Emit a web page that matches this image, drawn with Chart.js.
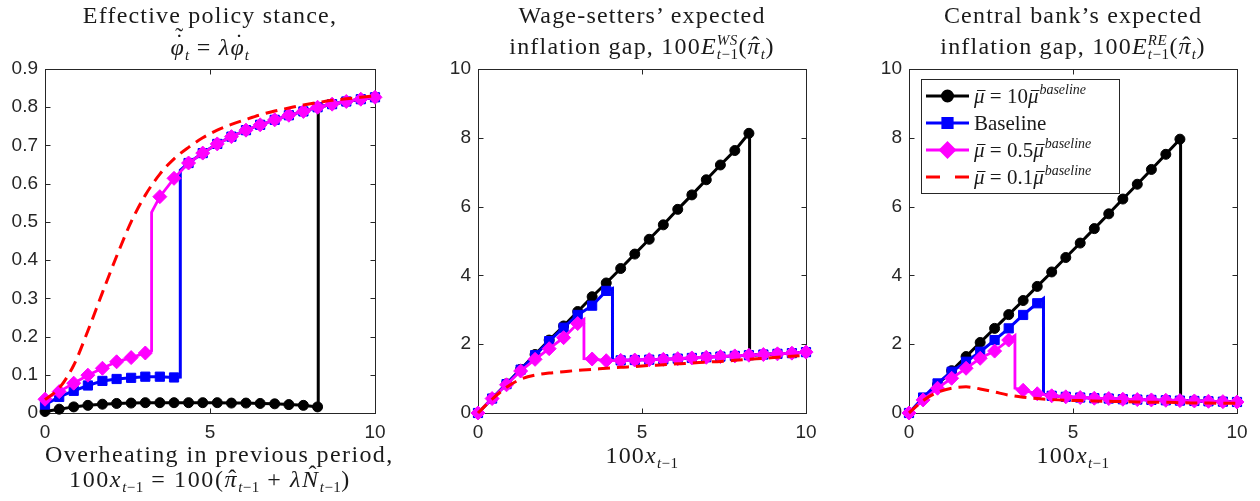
<!DOCTYPE html>
<html>
<head>
<meta charset="utf-8">
<script src="https://cdn.jsdelivr.net/npm/chart.js@4.4.1/dist/chart.umd.min.js"></script>
<style>
  html, body { margin: 0; padding: 0; background: #fff; }
  #wrap { position: relative; width: 1260px; height: 501px; overflow: hidden; }
  canvas { position: absolute; top: 0; }
  .lbl {
    position: absolute; text-align: center; white-space: nowrap;
    font-family: "Liberation Serif", "DejaVu Serif", serif;
    font-size: 24px; line-height: 32px; letter-spacing: 1.2px; color: #1a1a1a;
  }
  .lbl sub { font-size: 15px; line-height: 0; vertical-align: -5px; letter-spacing: 0.5px; }
  .ss { display: inline-block; font-size: 15px; line-height: 14px; vertical-align: -5px;
        text-align: left; font-style: italic; letter-spacing: 0.5px; }
  /* accents stacked over a single letter */
  .acc { position: relative; display: inline-block; }
  .acc > b { position: absolute; left: 0; right: 0; text-align: center; font-weight: normal;
             font-style: normal; line-height: 1em; letter-spacing: 0; }
</style>
</head>
<body>
<div id="wrap">
  <canvas id="stance" width="420" height="501" style="left:0px"></canvas>
  <canvas id="wage" width="420" height="501" style="left:420px"></canvas>
  <canvas id="bank" width="420" height="501" style="left:840px"></canvas>

  <!-- titles -->
  <div class="lbl" style="left:45px;width:330px;top:-1px">Effective policy stance,</div>
  <div class="lbl" style="left:45px;width:330px;top:31px"><span class="acc"><i>φ</i><b style="top:-7px;left:3px">˜</b><b style="top:-1px;left:3px">˙</b></span><sub><i>t</i></sub> = <i>λ</i><span class="acc"><i>φ</i><b style="top:-1px;left:3px">˙</b></span><sub><i>t</i></sub></div>
  <div class="lbl" style="left:478px;width:328px;top:-1px">Wage-setters’ expected</div>
  <div class="lbl" style="left:478px;width:328px;top:30px">inflation gap, 100<i>E</i><span class="ss">WS<br>t<span style="font-style:normal">−1</span></span>(<span class="acc"><i>π</i><b style="top:3px;left:2px">ˆ</b></span><sub><i>t</i></sub>)</div>
  <div class="lbl" style="left:909px;width:328px;top:-1px">Central bank’s expected</div>
  <div class="lbl" style="left:909px;width:328px;top:30px">inflation gap, 100<i>E</i><span class="ss">RE<br>t<span style="font-style:normal">−1</span></span>(<span class="acc"><i>π</i><b style="top:3px;left:2px">ˆ</b></span><sub><i>t</i></sub>)</div>

  <!-- x axis titles -->
  <div class="lbl" style="left:45px;width:330px;top:438px;letter-spacing:1.4px">Overheating in previous period,</div>
  <div class="lbl" style="left:45px;width:330px;top:463px;letter-spacing:1.6px">100<i>x</i><sub><i>t</i>−1</sub> = 100(<span class="acc"><i>π</i><b style="top:3px;left:2px">ˆ</b></span><sub><i>t</i>−1</sub> + <i>λ</i><span class="acc"><i>N</i><b style="top:-1px;left:3px">ˆ</b></span><sub><i>t</i>−1</sub>)</div>
  <div class="lbl" style="left:478px;width:328px;top:439px">100<i>x</i><sub><i>t</i>−1</sub></div>
  <div class="lbl" style="left:909px;width:328px;top:439px">100<i>x</i><sub><i>t</i>−1</sub></div>
</div>

<script>
// shared horizontal grid: overheating in the previous period (x 100)
const xGrid = [0, 0.43, 0.87, 1.3, 1.74, 2.17, 2.61, 3.04, 3.48, 3.91, 4.35, 4.78,
               5.22, 5.65, 6.09, 6.52, 6.96, 7.39, 7.83, 8.26, 8.7, 9.13, 9.57, 10];
const xTicks = [0, 5, 10];
// where each calibration switches regime: 10x baseline, baseline, 0.5x baseline
const switchX = [8.28, 4.1, 3.23];
const AFTER_START = 8; // the "after" arrays start at xGrid[8]

// effective policy stance
const stanceBlack = [0.004, 0.010, 0.016, 0.020, 0.023, 0.025, 0.026, 0.027, 0.027, 0.027,
                     0.027, 0.027, 0.027, 0.026, 0.026, 0.025, 0.024, 0.022, 0.020, 0.016];
const stanceBlue = [0.022, 0.042, 0.058, 0.072, 0.084, 0.089, 0.092, 0.095, 0.095, 0.093];
const stanceMagenta = [0.036, 0.056, 0.078, 0.099, 0.117, 0.134, 0.145, 0.157];
const stanceAfter = [0.566, 0.614, 0.654, 0.680, 0.704, 0.723, 0.740, 0.754,
                     0.767, 0.779, 0.789, 0.800, 0.808, 0.815, 0.821, 0.826];
const stanceJumps = [[0.016, 0.800], [0.094, 0.635], [0.163, 0.525]];
const stanceRed = [0.035, 0.065, 0.125, 0.215, 0.315, 0.41, 0.50, 0.57, 0.625, 0.665, 0.695, 0.72,
                   0.74, 0.755, 0.768, 0.78, 0.79, 0.798, 0.806, 0.812, 0.818, 0.822, 0.826, 0.83];
const stanceTicks = [0, 0.1, 0.2, 0.3, 0.4, 0.5, 0.6, 0.7, 0.8, 0.9];

// wage-setters' expected inflation gap
const wsBlack = [0, 0.42, 0.85, 1.27, 1.70, 2.12, 2.53, 2.95, 3.38, 3.78,
                 4.20, 4.62, 5.05, 5.47, 5.92, 6.34, 6.78, 7.21, 7.63, 8.13];
const wsBlue = [0, 0.42, 0.84, 1.26, 1.68, 2.09, 2.48, 2.85, 3.12, 3.55];
const wsMagenta = [0, 0.42, 0.82, 1.22, 1.56, 1.87, 2.19, 2.60];
const wsAfter = [1.57, 1.52, 1.53, 1.54, 1.55, 1.56, 1.58, 1.60,
                 1.62, 1.64, 1.66, 1.68, 1.70, 1.72, 1.74, 1.77];
const wsJumps = [[8.13, 1.68], [3.62, 1.55], [2.72, 1.58]];
const wsRed = [0, 0.40, 0.75, 0.98, 1.10, 1.16, 1.20, 1.24, 1.27, 1.30, 1.33, 1.35,
               1.38, 1.40, 1.43, 1.45, 1.48, 1.50, 1.53, 1.56, 1.59, 1.62, 1.65, 1.68];

// central bank's expected inflation gap
const cbBlack = [0, 0.41, 0.82, 1.23, 1.64, 2.05, 2.46, 2.86, 3.27, 3.68,
                 4.10, 4.52, 4.94, 5.36, 5.79, 6.22, 6.65, 7.08, 7.52, 7.96];
const cbBlue = [0, 0.45, 0.86, 1.20, 1.49, 1.78, 2.12, 2.46, 2.85, 3.19];
const cbMagenta = [0, 0.38, 0.72, 1.01, 1.30, 1.59, 1.80, 2.12];
const cbAfter = [0.66, 0.56, 0.50, 0.47, 0.45, 0.43, 0.42, 0.40,
                 0.39, 0.38, 0.37, 0.36, 0.35, 0.34, 0.33, 0.32];
const cbJumps = [[7.96, 0.36], [3.33, 0.55], [2.25, 0.72]];
const cbRed = [0, 0.36, 0.60, 0.72, 0.76, 0.70, 0.61, 0.52, 0.46, 0.42, 0.39, 0.37,
               0.36, 0.35, 0.34, 0.33, 0.32, 0.31, 0.31, 0.30, 0.29, 0.29, 0.28, 0.28];
const gapTicks = [0, 2, 4, 6, 8, 10];

// legend entries (text runs: '' upright, 'bar' italic mu with a bar, 'sup' italic superscript)
const legendLabels = [
    [['μ', 'bar'], [' = 10', ''], ['μ', 'bar'], ['baseline', 'sup']],
    [['Baseline', '']],
    [['μ', 'bar'], [' = 0.5', ''], ['μ', 'bar'], ['baseline', 'sup']],
    [['μ', 'bar'], [' = 0.1', ''], ['μ', 'bar'], ['baseline', 'sup']]
];

// --- styles ---
const AXIS_COLOR = '#262626';
const TICK_FONT = { family: 'Liberation Sans', size: 19 };
const SERIF = '"Liberation Serif", "DejaVu Serif", serif';
const lineStyles = [
    { color: '#000000', width: 3, point: 'circle', radius: 5 },
    { color: '#0000ff', width: 3, point: 'rect', radius: 6.5 },
    { color: '#ff00ff', width: 2.8, point: 'rectRot', radius: 7 },
    { color: '#ff0000', width: 3, dash: [12, 7] }
];

// line that follows its own path, jumps at the switch point, then joins the common branch
function switchedDataset(pre, after, s, jump) {
    const st = lineStyles[s];
    const data = [], radii = [];
    pre.forEach((y, i) => { data.push({ x: xGrid[i], y }); radii.push(st.radius); });
    data.push({ x: switchX[s], y: jump[0] }, { x: switchX[s], y: jump[1] });
    radii.push(0, 0);
    for (let i = pre.length; i < xGrid.length; i++) {
        data.push({ x: xGrid[i], y: after[i - AFTER_START] });
        radii.push(st.radius);
    }
    return {
        data,
        borderColor: st.color, backgroundColor: st.color,
        borderWidth: st.width,
        pointStyle: st.point, pointRadius: radii,
        pointBackgroundColor: st.color, pointBorderColor: st.color, pointBorderWidth: 1,
        tension: 0, clip: false,
        order: 3 - s
    };
}

function redDataset(vals) {
    const st = lineStyles[3];
    return {
        data: vals.map((y, i) => ({ x: xGrid[i], y })),
        borderColor: st.color, borderWidth: st.width, borderDash: st.dash,
        pointRadius: 0, cubicInterpolationMode: 'monotone', clip: false,
        order: 0
    };
}

// box round the axes with inward tick marks on all four sides
const framePlugin = {
    id: 'frame',
    beforeDatasetsDraw(chart) {
        const { ctx, chartArea: a, scales: { x, y } } = chart;
        const L = Math.round(a.left) + 0.5, R = Math.round(a.right) + 0.5;
        const T = Math.round(a.top) + 0.5, B = Math.round(a.bottom) + 0.5;
        ctx.save();
        ctx.strokeStyle = AXIS_COLOR;
        ctx.lineWidth = 1;
        ctx.strokeRect(L, T, R - L, B - T);
        ctx.beginPath();
        x.ticks.forEach(t => {
            const px = Math.round(x.getPixelForValue(t.value)) + 0.5;
            ctx.moveTo(px, B); ctx.lineTo(px, B - 5);
            ctx.moveTo(px, T); ctx.lineTo(px, T + 5);
        });
        y.ticks.forEach(t => {
            const py = Math.round(y.getPixelForValue(t.value)) + 0.5;
            ctx.moveTo(L, py); ctx.lineTo(L + 5, py);
            ctx.moveTo(R, py); ctx.lineTo(R - 5, py);
        });
        ctx.stroke();
        ctx.restore();
    }
};

// boxed legend in the upper left of the last panel
const legendPlugin = {
    id: 'boxLegend',
    afterDatasetsDraw(chart, args, opts) {
        if (!opts.show) return;
        const { ctx, chartArea: a } = chart;
        const bx = a.left + 12, by = a.top + 10, bw = 198, bh = 114;
        ctx.save();
        ctx.fillStyle = '#fff';
        ctx.fillRect(bx, by, bw, bh);
        ctx.strokeStyle = AXIS_COLOR;
        ctx.lineWidth = 1;
        ctx.strokeRect(Math.round(bx) + 0.5, Math.round(by) + 0.5, bw, bh);

        legendLabels.forEach((runs, k) => {
            const st = lineStyles[k];
            const cy = by + 17 + k * 27;
            const x0 = a.left + 17, x1 = a.left + 60;
            ctx.strokeStyle = st.color;
            ctx.lineWidth = st.width;
            ctx.setLineDash(st.dash ? [14, 15] : []);
            ctx.beginPath(); ctx.moveTo(x0, cy); ctx.lineTo(x1, cy); ctx.stroke();
            ctx.setLineDash([]);
            if (st.point) {
                Chart.helpers.drawPoint(ctx, {
                    pointStyle: st.point, radius: st.radius, rotation: 0, borderWidth: 1
                }, (x0 + x1) / 2, cy);
                ctx.fillStyle = st.color;
                ctx.fill();
            }
            let tx = a.left + 65;
            const base = cy + 7;
            ctx.fillStyle = '#1a1a1a';
            ctx.strokeStyle = '#1a1a1a';
            ctx.lineWidth = 1;
            ctx.textBaseline = 'alphabetic';
            runs.forEach(([t, kind]) => {
                if (kind === 'sup') {
                    ctx.font = 'italic 14px ' + SERIF;
                    ctx.fillText(t, tx + 1, base - 9);
                    tx += ctx.measureText(t).width + 1;
                } else if (kind === 'bar') {
                    ctx.font = 'italic 21px ' + SERIF;
                    const w = ctx.measureText(t).width;
                    ctx.fillText(t, tx, base);
                    ctx.beginPath();
                    ctx.moveTo(tx + 3, base - 12.5); ctx.lineTo(tx + w + 1, base - 12.5);
                    ctx.stroke();
                    tx += w;
                } else {
                    ctx.font = '21px ' + SERIF;
                    ctx.fillText(t, tx, base);
                    tx += ctx.measureText(t).width;
                }
            });
        });
        ctx.restore();
    }
};

function makePanel(id, cfg) {
    const datasets = [
        switchedDataset(cfg.black, cfg.after, 0, cfg.jumps[0]),
        switchedDataset(cfg.blue, cfg.after, 1, cfg.jumps[1]),
        switchedDataset(cfg.magenta, cfg.after, 2, cfg.jumps[2]),
        redDataset(cfg.red)
    ];
    return new Chart(document.getElementById(id), {
        type: 'line',
        data: { datasets },
        plugins: [framePlugin, legendPlugin],
        options: {
            responsive: false,
            animation: false,
            devicePixelRatio: 1,
            events: [],
            layout: { padding: { left: cfg.padLeft, right: cfg.padRight, top: 69, bottom: 58 } },
            plugins: {
                legend: { display: false },
                tooltip: { enabled: false },
                boxLegend: { show: !!cfg.legend }
            },
            scales: {
                x: {
                    type: 'linear', min: 0, max: 10,
                    afterBuildTicks: s => { s.ticks = xTicks.map(v => ({ value: v })); },
                    afterFit: s => { s.height = 30; },
                    grid: { display: false, drawTicks: false },
                    border: { display: false },
                    ticks: { font: TICK_FONT, color: AXIS_COLOR, padding: 8, maxRotation: 0,
                             callback: v => String(v) }
                },
                y: {
                    type: 'linear', min: 0, max: cfg.yMax,
                    afterBuildTicks: s => { s.ticks = cfg.yTicks.map(v => ({ value: v })); },
                    afterFit: s => { s.width = cfg.yWidth; },
                    grid: { display: false, drawTicks: false },
                    border: { display: false },
                    ticks: { font: TICK_FONT, color: AXIS_COLOR, padding: 7,
                             callback: v => String(v) }
                }
            }
        }
    });
}

makePanel('stance', {
    black: stanceBlack, blue: stanceBlue, magenta: stanceMagenta, after: stanceAfter,
    jumps: stanceJumps, red: stanceRed,
    yMax: 0.9, yTicks: stanceTicks, yWidth: 45, padLeft: 0, padRight: 45
});
makePanel('wage', {
    black: wsBlack, blue: wsBlue, magenta: wsMagenta, after: wsAfter,
    jumps: wsJumps, red: wsRed,
    yMax: 10, yTicks: gapTicks, yWidth: 40, padLeft: 18, padRight: 34
});
makePanel('bank', {
    black: cbBlack, blue: cbBlue, magenta: cbMagenta, after: cbAfter,
    jumps: cbJumps, red: cbRed,
    yMax: 10, yTicks: gapTicks, yWidth: 40, padLeft: 29, padRight: 23, legend: true
});
</script>
</body>
</html>
